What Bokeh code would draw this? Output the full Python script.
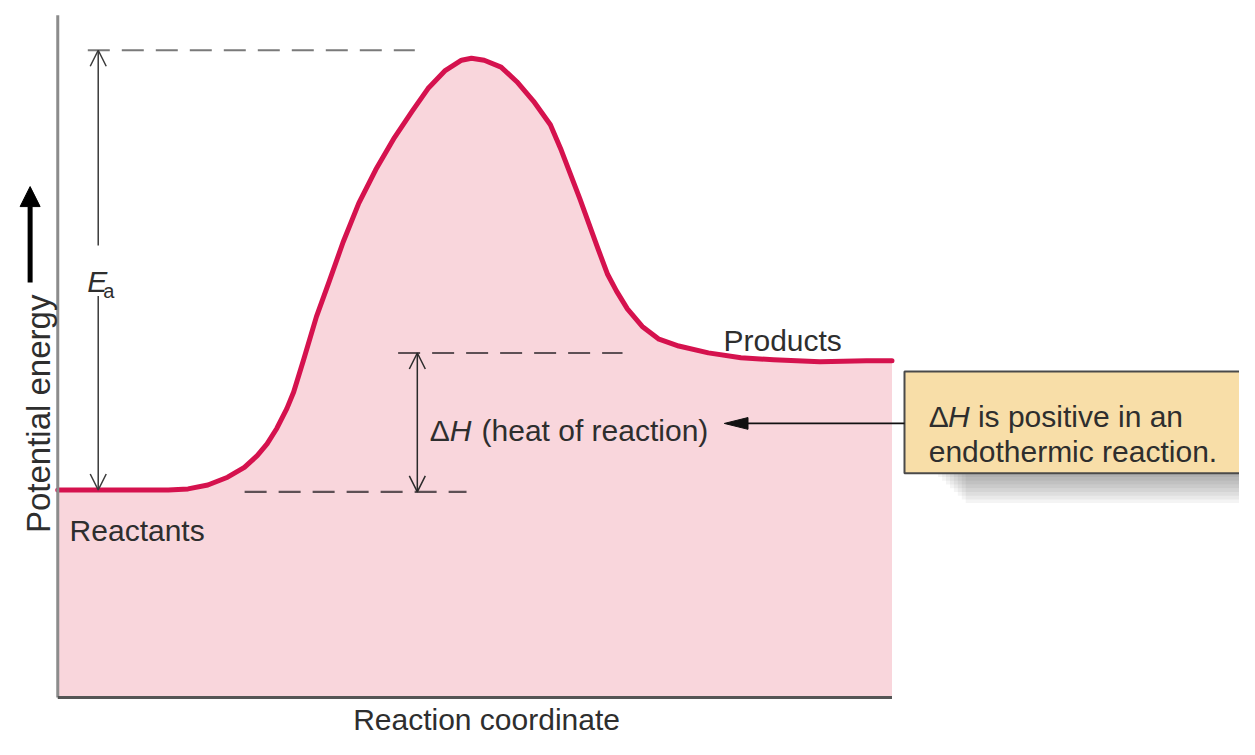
import math
from bokeh.plotting import figure
from bokeh.models import Range1d, Arrow, OpenHead, NormalHead
from bokeh.core.properties import value
from bokeh.embed import file_html
from bokeh.resources import INLINE

# ---------------- data ----------------
# reaction coordinate (0..100) and potential energy (arbitrary units, peak ~ 100)
rc = [0, 7.34, 13.25, 15.62, 17.99, 20.36, 22.37, 23.91, 25.09, 26.27, 27.46, 28.28,
      29.47, 31.01, 32.54, 34.20, 36.09, 38.11, 40.36, 42.49, 44.38, 46.39, 48.40,
      49.59, 51.12, 53.14, 55.03, 57.04, 59.05, 60.36, 62.60, 64.73, 65.92, 66.98,
      68.28, 70.06, 72.07, 74.44, 77.99, 81.89, 85.80, 91.36, 96.92, 100]
pe = [32.4, 32.4, 32.4, 32.57, 33.18, 34.40, 35.93, 37.77, 39.60, 42.05, 45.11, 47.71,
      52.75, 59.48, 64.98, 71.10, 77.22, 82.42, 87.46, 91.59, 95.11, 97.86, 99.54,
      99.85, 99.54, 98.47, 96.18, 93.12, 89.45, 85.47, 77.83, 70.18, 66.06, 63.46,
      60.70, 57.95, 55.96, 54.89, 53.82, 53.06, 52.75, 52.45, 52.60, 52.60]

reactant_level = 32.1      # lower dashed level (reactants)
product_level = 53.8       # upper dashed level for delta H
ts_level = 101.1           # transition state level (Ea top)

axis_labels = ["Reaction coordinate", "Potential energy"]
curve_labels = ["Reactants", "Products"]
callout_lines = ["is positive in an", "endothermic reaction."]

# ---------------- layout ----------------
W, H = 1239, 739
# reference image is 1255 x 755 px; origin at (58, 712), 8.45 px / x unit, 6.54 px / y unit
RX, RY, RW, RH = 58, 712, 1255, 755
SX, SY = 8.45, 6.54

def dx(px):  # reference-pixel length -> data length (x)
    return px / SX

def dy(px):
    return px / SY

p = figure(width=W, height=H, output_backend="svg", toolbar_location=None,
           x_range=Range1d(-RX / SX, (RW - RX) / SX),
           y_range=Range1d(-(RH - RY) / SY, RY / SY),
           x_axis_location=None, y_axis_location=None, min_border=0)
p.grid.visible = False
p.outline_line_color = None
p.background_fill_color = "white"
p.border_fill_color = "white"

PINK = "#f9d6dc"
CRIMSON = "#d5124e"
TXT = "#2e2e2e"
FONT = value("Liberation Sans")
FS = "30px"

# area under curve + curve
p.varea(x=rc, y1=[0] * len(rc), y2=pe, fill_color=PINK)
p.line(rc, pe, line_color=CRIMSON, line_width=5, line_join="round", line_cap="round")

# axes (plain lines)
p.segment(x0=[0], y0=[0], x1=[0], y1=[dy(697)], line_color="#8c8c8c", line_width=3)
p.segment(x0=[0], y0=[0], x1=[rc[-1]], y1=[0], line_color="#555555", line_width=3)

# dashed reference lines
p.segment(x0=[3.6], y0=[ts_level], x1=[42.8], y1=[ts_level],
          line_color="#7a7a7a", line_width=2.2, line_dash="22 12")
p.segment(x0=[40.8], y0=[product_level], x1=[67.7], y1=[product_level],
          line_color="#5e5055", line_width=2.2, line_dash="22 12")
p.segment(x0=[22.4], y0=[reactant_level], x1=[49.0], y1=[reactant_level],
          line_color="#5e5055", line_width=2.2, line_dash="22 12")

# Ea double arrow (split around label)
ea_x = 4.85
for (ys, ye) in [(70.6, ts_level), (62.7, pe[0])]:
    p.add_layout(Arrow(end=OpenHead(size=16, line_width=1.5, line_color="#3a3a3a"),
                       x_start=ea_x, y_start=ys, x_end=ea_x, y_end=ye,
                       line_width=1.5, line_color="#3a3a3a"))
p.text(x=[ea_x - dx(11)], y=[65.0], text=["E"], text_font=FONT, text_font_size=FS,
       text_font_style="italic", text_color=TXT, text_baseline="alphabetic")
p.text(x=[ea_x + dx(5)], y=[63.5], text=["a"], text_font=FONT, text_font_size="20px",
       text_color=TXT, text_baseline="alphabetic")

# delta H double arrow
dh_x = 43.1
p.add_layout(Arrow(start=OpenHead(size=16, line_width=1.5, line_color="#2a2a2a"),
                   end=OpenHead(size=16, line_width=1.5, line_color="#2a2a2a"),
                   x_start=dh_x, y_start=reactant_level, x_end=dh_x, y_end=product_level,
                   line_width=1.5, line_color="#2a2a2a"))
mid = 41.7
p.text(x=[44.6], y=[mid], text=["Δ"], text_font=FONT, text_font_size=FS,
       text_color=TXT, text_baseline="alphabetic")
p.text(x=[47.0], y=[mid], text=["H"], text_font=FONT, text_font_size=FS,
       text_font_style="italic", text_color=TXT, text_baseline="alphabetic")
p.text(x=[50.8], y=[mid], text=["(heat of reaction)"], text_font=FONT, text_font_size=FS,
       text_color=TXT, text_baseline="alphabetic")

# callout box with soft shadow
bx0, by0, by1 = 101.5, 35.0, 50.9
for k in range(1, 9):
    p.quad(left=[bx0 + dx(30 + 4 * k)], right=[200], top=[by0], bottom=[by0 - dy(3.8 * k)],
           fill_color="#000000", fill_alpha=0.045, line_color=None)
p.quad(left=[bx0], right=[200], top=[by1], bottom=[by0],
       fill_color="#f8dea8", line_color="#4a4a4a", line_width=2)
p.text(x=[104.4], y=[43.9], text=["Δ"], text_font=FONT, text_font_size=FS,
       text_color=TXT, text_baseline="alphabetic")
p.text(x=[106.7], y=[43.9], text=["H"], text_font=FONT, text_font_size=FS,
       text_font_style="italic", text_color=TXT, text_baseline="alphabetic")
p.text(x=[110.3], y=[43.9], text=[callout_lines[0]], text_font=FONT, text_font_size=FS,
       text_color=TXT, text_baseline="alphabetic")
p.text(x=[104.4], y=[38.4], text=[callout_lines[1]], text_font=FONT, text_font_size=FS,
       text_color=TXT, text_baseline="alphabetic")

# callout pointer arrow
ay = 42.8
tip = 79.9
p.segment(x0=[bx0], y0=[ay], x1=[tip + dx(20)], y1=[ay], line_color="#111111", line_width=1.8)
p.patch(x=[tip, tip + dx(24), tip + dx(24)], y=[ay, ay + dy(6), ay - dy(6)],
        fill_color="#111111", line_color="#111111")

# curve labels
p.text(x=[dx(12)], y=[26.1], text=[curve_labels[0]], text_font=FONT, text_font_size=FS,
       text_color=TXT, text_baseline="alphabetic")
p.text(x=[79.8], y=[55.7], text=[curve_labels[1]], text_font=FONT, text_font_size=FS,
       text_color=TXT, text_baseline="alphabetic")

# axis labels
p.text(x=[51.4], y=[-3.4], text=[axis_labels[0]], text_font=FONT, text_font_size=FS,
       text_color=TXT, text_align="center", text_baseline="alphabetic")
p.text(x=[-dx(20)], y=[44.3], text=[axis_labels[1]], text_font=FONT, text_font_size="33px",
       text_color=TXT, text_align="center", text_baseline="alphabetic", angle=math.pi / 2)
p.add_layout(Arrow(end=NormalHead(size=20, fill_color="black", line_color="black"),
                   x_start=-dx(28), y_start=64.8, x_end=-dx(28), y_end=79.8,
                   line_width=5, line_color="black"))

open("out.html", "w").write(file_html(p, INLINE))
